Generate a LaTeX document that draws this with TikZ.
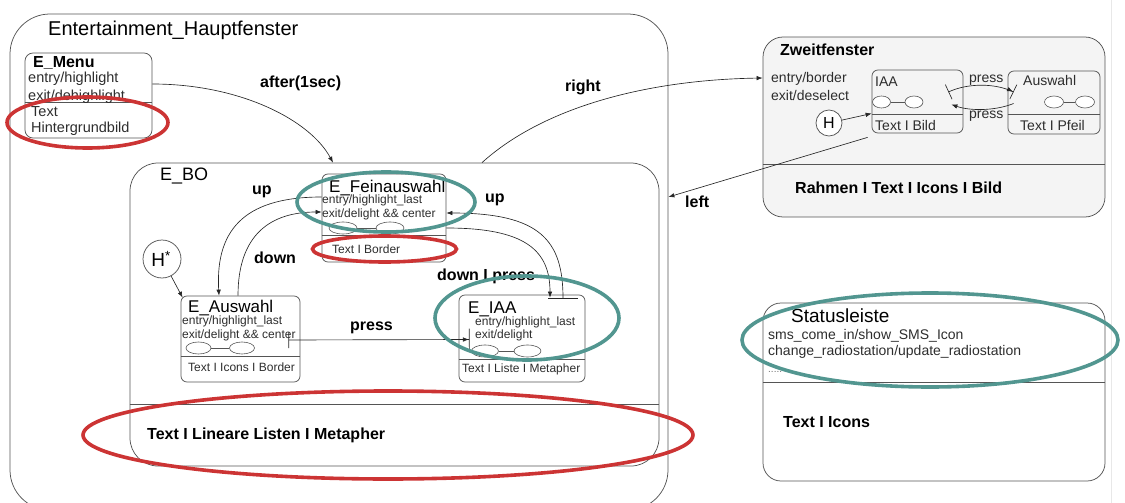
\documentclass[tikz,border=0pt]{standalone}
\usepackage{fontspec}
\setmainfont{Liberation Sans}
\usetikzlibrary{arrows.meta,shapes.geometric}
\definecolor{linegray}{RGB}{85,85,85}
\definecolor{textgray}{RGB}{45,45,45}
\definecolor{ringred}{RGB}{204,52,52}
\definecolor{ringteal}{RGB}{82,150,144}
\definecolor{winfill}{RGB}{244,244,244}

\begin{document}
\begin{tikzpicture}[
    x=1pt, y=-1pt,
    box/.style={draw=linegray, line width=0.75pt, rounded corners=6pt, inner sep=0pt},
    oval/.style={ellipse, draw=linegray, line width=0.6pt, fill=white, minimum height=12pt, inner sep=0pt},
    hist/.style={circle, draw=linegray, line width=0.75pt, inner sep=0pt},
    trans/.style={draw=black!85, line width=0.65pt, -{Latex[length=6pt,width=4.5pt]}},
    txt/.style={anchor=base west, inner sep=0pt, text=textgray},
    ttl/.style={txt, text=black, font=\fontsize{17}{19}\selectfont},
    act/.style={txt, font=\fontsize{12}{14}\selectfont},
    bigact/.style={txt, font=\fontsize{14}{16}\selectfont},
    lbl/.style={txt, text=black, font=\bfseries\fontsize{16}{18}\selectfont},
    ring/.style={ellipse, draw=#1, line width=3.6pt, inner sep=0pt}
]
\useasboundingbox (0,0) rectangle (1125,503);
\draw[gray!18] (1111,0) -- (1111,503);

% Hauptfenster with its states
\node[box, rounded corners=40pt, minimum width=658, minimum height=496] (haupt) at (339,262) {};
\node[box, rounded corners=8pt, minimum width=127, minimum height=85] (menu) at (88.5,95.5) {};
\node[box, rounded corners=28pt, minimum width=529, minimum height=303] (ebo) at (394.5,314.5) {};
\node[box, minimum width=124, minimum height=88] (fein) at (384,218) {};
\node[box, minimum width=119, minimum height=86] (auswahl) at (240.5,339) {};
\node[box, minimum width=126, minimum height=87] (iaa) at (522,338.5) {};
\node[hist, minimum size=38pt] (hstar) at (162,259) {};

% Zweitfenster and Statusleiste
\node[box, fill=winfill, rounded corners=20pt, minimum width=342, minimum height=180] (zweit) at (934,127) {};
\node[box, fill=winfill, minimum width=91, minimum height=63] (zwiaa) at (917.5,101.5) {};
\node[box, fill=winfill, minimum width=92, minimum height=63] (zwausw) at (1054,102.5) {};
\node[hist, fill=white, minimum size=26pt] (hzw) at (829,123) {};
\node[box, rounded corners=18pt, minimum width=342, minimum height=178] (status) at (934,392) {};

\foreach \b/\h in {menu/36, ebo/62, fein/27, auswahl/26, iaa/23, zweit/53, zwiaa/19, zwausw/20, status/99}
    \draw[linegray, line width=0.75pt] ([yshift=\h pt]\b.south west) -- ([yshift=\h pt]\b.south east);

\foreach \p/\xa/\xb/\y/\w in {fo/343/390/228/28, ao/198.5/242/348/25, io/485/527.5/351/27, zo/881.5/914/102/18, wo/1054/1085/102/19} {
    \node[oval, minimum width=\w pt] (\p1) at (\xa,\y) {};
    \node[oval, minimum width=\w pt] (\p2) at (\xb,\y) {};
    \draw[linegray, line width=0.6pt] (\p1) -- (\p2);
}

% texts
\node[txt, text=black, font=\fontsize{20}{22}\selectfont] (thaupt) at (48,36) {Entertainment\_Hauptfenster};
\node[txt, text=black, font=\bfseries\fontsize{16}{18}\selectfont] (tmenu) at (33,68) {E\_Menu};
\node[txt, font=\fontsize{14.5}{16}\selectfont] (menu1) at (28,83) {entry/highlight};
\node[txt, font=\fontsize{14.5}{16}\selectfont] (menu2) at (28,100) {exit/dehighlight};
\node[txt, font=\fontsize{14.5}{16}\selectfont] (menu3) at (31,117) {Text};
\node[txt, font=\fontsize{14.5}{16}\selectfont] (menu4) at (31,132) {Hintergrundbild};

\node[ttl, font=\fontsize{18}{20}\selectfont] (tebo) at (160,180) {E\_BO};
\node[lbl] (tebo2) at (147,439) {Text I Lineare Listen I Metapher};

\node[ttl] (tfein) at (329,192) {E\_Feinauswahl};
\node[act] (fein1) at (322,203) {entry/highlight\_last};
\node[act] (fein2) at (322,217) {exit/delight \&\& center};
\node[act] (fein3) at (332,253) {Text I Border};

\node[ttl] (tausw) at (188,312) {E\_Auswahl};
\node[act] (ausw1) at (182,324) {entry/highlight\_last};
\node[act] (ausw2) at (182,338) {exit/delight \&\& center};
\node[act] (ausw3) at (188,371) {Text I Icons I Border};

\node[ttl] (tiaa) at (468,313) {E\_IAA};
\node[act] (iaa1) at (475,325) {entry/highlight\_last};
\node[act] (iaa2) at (475,338) {exit/delight};
\node[act] (iaa3) at (462,372) {Text I Liste I Metapher};

\node[txt, text=black, font=\fontsize{19}{21}\selectfont] (thstar) at (hstar) [anchor=center, xshift=-1pt] {H\textsuperscript{*}};
\node[txt, text=black, font=\fontsize{16}{18}\selectfont, anchor=center] (thzw) at (hzw) {H};

\node[txt, text=black, font=\bfseries\fontsize{16}{18}\selectfont] (tzweit) at (780,56) {Zweitfenster};
\node[bigact] (zweit1) at (771,83) {entry/border};
\node[bigact] (zweit2) at (771,100) {exit/deselect};
\node[bigact] (tzwiaa) at (875,87) {IAA};
\node[bigact] (zwiaa1) at (875,130) {Text I Bild};
\node[bigact] (tzwausw) at (1023,85) {Auswahl};
\node[bigact] (zwausw1) at (1020,130) {Text I Pfeil};
\node[lbl] (zweit3) at (795,193) {Rahmen I Text I Icons I Bild};

\node[txt, text=black, font=\fontsize{19}{21}\selectfont] (tstatus) at (791,322) {Statusleiste};
\node[bigact] (status1) at (768,339) {sms\_come\_in/show\_SMS\_Icon};
\node[bigact] (status2) at (768,355) {change\_radiostation/update\_radiostation};
\node[txt, text=black!55, font=\fontsize{10}{11}\selectfont] (status3) at (768,372) {.....};
\node[lbl] (status4) at (783,427) {Text I Icons};

% transitions
\draw[trans] ([yshift=11.5pt]menu.east) .. controls (240,84) and (310,120) .. ([xshift=-61.5pt]ebo.north);
\draw[trans] ([xshift=87.5pt]ebo.north) .. controls (540,110) and (640,80) .. ([yshift=49pt]zweit.west);
\draw[trans] ([xshift=-4pt,yshift=-4pt]zwiaa.south west) -- ([yshift=65pt]haupt.east);
\draw[trans] (hstar) -- ([xshift=2pt,yshift=-2pt]auswahl.north west);
\draw[trans] ([yshift=21pt]fein.west) .. controls (250,197) and (215,225) .. ([xshift=-21.5pt]auswahl.north);
\draw[trans] ([xshift=-2.5pt]auswahl.north) .. controls (238,235) and (270,212) .. ([yshift=6pt]fein.west);
\draw[trans, {Bar[width=30pt]}-{Latex[length=6pt,width=4.5pt]}] ([xshift=41pt,yshift=-4pt]iaa.north) .. controls (563,240) and (540,213) .. ([yshift=5pt]fein.east);
\draw[trans] ([yshift=-10pt]fein.east) .. controls (525,228) and (550,250) .. ([xshift=28pt,yshift=-3pt]iaa.north);
\draw[trans, {Bar[width=16pt]}-{Latex[length=6pt,width=4.5pt] Bar[width=22pt]}] ([xshift=-12pt,yshift=-1pt]auswahl.east) -- ([xshift=11pt,yshift=-1pt]iaa.west);
\draw[trans, {Bar[width=16pt]}-{Latex[length=6pt,width=4.5pt] Bar[width=16pt]}] ([xshift=-15pt,yshift=9.5pt]zwiaa.east) .. controls (968,83) and (995,83) .. ([xshift=6pt,yshift=10.5pt]zwausw.west);
\draw[trans] ([xshift=6pt,yshift=-1pt]zwausw.west) .. controls (995,111) and (970,111) .. ([xshift=-12pt,yshift=-3pt]zwiaa.east);
\draw[trans] (hzw) -- ([yshift=-12pt]zwiaa.west);

% transition labels
\node[lbl] (lafter) at (260,88) {after(1sec)};
\node[lbl] (lright) at (565,92) {right};
\node[lbl] (lleft) at (685,207) {left};
\node[lbl] (lup1) at (252,194) {up};
\node[lbl] (ldown1) at (254,263) {down};
\node[lbl] (lpress) at (350,330) {press};
\node[lbl] (lup2) at (485,202) {up};
\node[lbl] (ldown2) at (437,280) {down I press};
\node[bigact] (lzpress1) at (969,83) {press};
\node[bigact] (lzpress2) at (969,118) {press};

% highlight rings
\node[ring=ringred, minimum width=161, minimum height=51] (rmenu) at (87.5,122.5) {};
\node[ring=ringred, minimum width=144, minimum height=26] (rfein) at (384.5,249) {};
\node[ring=ringred, minimum width=610, minimum height=88] (rebo) at (388,435) {};
\node[ring=ringteal, minimum width=178, minimum height=60] (gfein) at (386,202) {};
\node[ring=ringteal, minimum width=184, minimum height=84] (giaa) at (527,318) {};
\node[ring=ringteal, minimum width=376, minimum height=94] (gstatus) at (930,340) {};

\end{tikzpicture}
\end{document}
